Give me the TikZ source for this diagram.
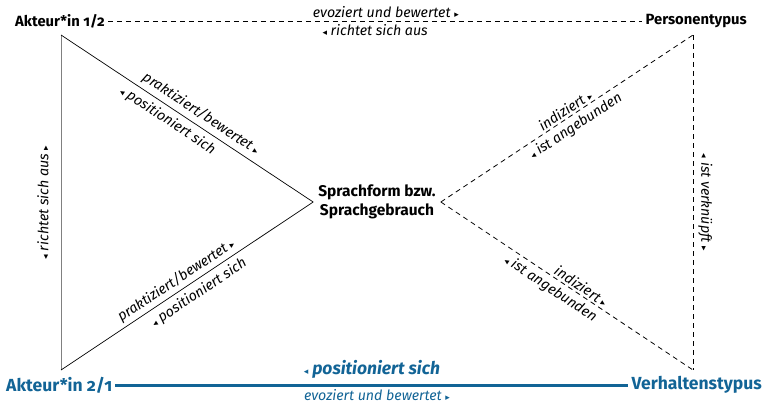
\documentclass[tikz,border=0pt]{standalone}
\usepackage{fontspec}
\setmainfont{Fira Sans}[Numbers=OldStyle]
\newfontfamily\trifont{DejaVu Sans}
\definecolor{ablau}{RGB}{18,100,150}
\newcommand{\vor}{{\trifont\fontsize{9}{9}\selectfont ▸}}
\newcommand{\rueck}{{\trifont\fontsize{9}{9}\selectfont ◂}}
\tikzset{
  ecke/.style={font=\fontsize{14.8}{18}\selectfont\bfseries, inner sep=3pt},
  blau/.style={ecke, ablau, font=\fontsize{17.5}{20}\selectfont\bfseries},
  rel/.style={font=\fontsize{14.2}{16}\selectfont\itshape, inner sep=2pt},
  strich/.style={dash pattern=on 5pt off 4pt, line width=0.8pt},
}
\begin{document}
\begin{tikzpicture}[x=1pt,y=-1pt]
  \useasboundingbox (0,0) rectangle (766,404);

  % Ecken
  \node[ecke, anchor=west] (akteur1) at (12,21) {Akteur*in 1/2};
  \node[ecke, anchor=east] (person) at (750,21) {Personentypus};
  \node[blau, anchor=west] (akteur2) at (3,385) {Akteur*in 2/1};
  \node[blau, anchor=east] (verhalten) at (765,385) {Verhaltenstypus};
  \node[ecke, font=\fontsize{15.5}{18.5}\selectfont\bfseries, align=center, inner sep=5pt] (sprache) at (377,202) {Sprachform bzw.\\Sprachgebrauch};

  \coordinate (lo) at (61,35);
  \coordinate (lu) at (61,370);
  \coordinate (ro) at (693,35);
  \coordinate (ru) at (693,370);

  % oben und unten
  \draw[strich] (akteur1) -- (person)
    node[rel, pos=0.52, above=1pt] {evoziert und bewertet \vor}
    node[rel, midway, below=1pt] {\rueck\ richtet sich aus};
  \draw[ablau, line width=3pt] (akteur2) -- (verhalten)
    node[midway, above=2pt, font=\fontsize{17.5}{20}\selectfont\bfseries\itshape] {\rueck\ positioniert sich}
    node[rel, pos=0.51, below=1pt] {evoziert und bewertet \vor};

  % linkes Dreieck
  \draw[gray, line width=1pt] (lu) -- (lo)
    node[rel, midway, sloped, above=10pt, black] {\rueck\ richtet sich aus \vor};
  \draw[line width=0.7pt] (lo) -- (sprache.west)
    node[rel, pos=0.53, sloped, above=2pt] {praktiziert/bewertet \vor}
    node[rel, pos=0.45, sloped, below=3pt] {\rueck\ positioniert sich};
  \draw[line width=0.7pt] (lu) -- (sprache.west)
    node[rel, pos=0.48, sloped, above=1pt] {praktiziert/bewertet \vor}
    node[rel, pos=0.52, sloped, below=3pt] {\rueck\ positioniert sich};

  % rechtes Dreieck
  \draw[strich] (sprache.east) -- (ro)
    node[rel, pos=0.51, sloped, above] {indiziert \vor}
    node[rel, pos=0.51, sloped, below=2pt] {\rueck\ ist angebunden};
  \draw[strich] (sprache.east) -- (ru)
    node[rel, pos=0.54, sloped, above] {indiziert \vor}
    node[rel, pos=0.46, sloped, below=2pt] {\rueck\ ist angebunden};
  \draw[strich] (ro) -- (ru)
    node[rel, midway, sloped, above=3pt] {\rueck\ ist verknüpft \vor};
\end{tikzpicture}
\end{document}
